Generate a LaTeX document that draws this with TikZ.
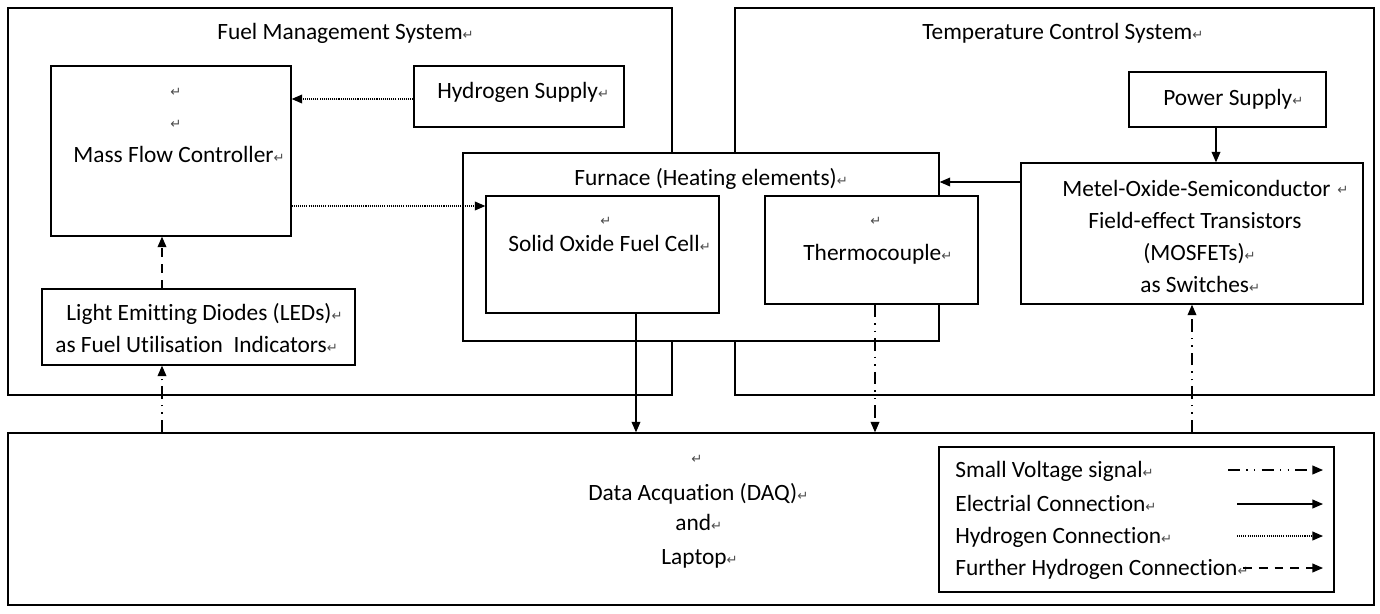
\documentclass[tikz,border=0pt]{standalone}
\usepackage{fontspec}
\setmainfont{Carlito}[Ligatures={NoCommon}]
\newfontfamily\symfont{DejaVu Sans}
\usetikzlibrary{arrows.meta,fit,calc}
\newcommand{\retmark}{{\symfont\fontsize{7.5}{8}\selectfont\color{black!70}↵}}

\begin{document}
\begin{tikzpicture}[x=0.02cm, y=-0.02cm,
  blk/.style={draw, line width=0.75pt, inner sep=0pt, fill=white},
  lbl/.style={anchor=base west, inner sep=0pt, font=\fontsize{13.3}{16}\selectfont},
  rmk/.style={anchor=base, inner sep=0pt, text=black!70, font=\symfont\fontsize{7.5}{8}\selectfont},
  elec/.style={line width=0.75pt, -{Triangle[length=6pt,width=5pt]}},
  hydro/.style={elec, dash pattern=on 0.6pt off 0.6pt},
  hydro2/.style={elec, dash pattern=on 5pt off 4pt},
  sig/.style={elec, dash pattern=on 7pt off 3.5pt on 0.8pt off 3.5pt on 0.8pt off 3.5pt}]
  \useasboundingbox (0,0) rectangle (1380,613);

  % outer blocks
  \node[blk, fit={(8,8) (672,395)}] (fms) {};
  \node[blk, fit={(735,8) (1374,395)}] (tcs) {};
  \node[blk, fit={(8,433) (1374,605)}] (daq) {};

  % fuel management
  \node[blk, fit={(51,66) (291,236)}] (mfc) {};
  \node[blk, fit={(414,66) (624,127)}] (hyd) {};
  \node[blk, fit={(42,289) (355,365)}] (led) {};

  % furnace and what sits in it
  \node[blk, fit={(463,153) (939,341)}] (furn) {};
  \node[blk, fit={(486,196) (719,313)}] (sofc) {};
  \node[blk, fit={(765,196) (978,304)}] (thermo) {};

  % temperature control
  \node[blk, fit={(1129,72) (1326,127)}] (psu) {};
  \node[blk, fit={(1021,163) (1363,304)}] (mosfet) {};

  % legend
  \node[blk, fit={(939,447) (1334,592)}] (legend) {};

  % texts
  \node[lbl] (fms-t) at (217,39) {Fuel Management System\retmark};
  \node[lbl] (hyd-t) at (437,98) {Hydrogen Supply\retmark};
  \node[rmk] (mfc-r1) at (176,96) {↵};
  \node[rmk] (mfc-r2) at (176,128) {↵};
  \node[lbl] (mfc-t) at (73,162) {Mass Flow Controller\retmark};
  \node[lbl] (led-t1) at (66,320) {Light Emitting Diodes (LEDs)\retmark};
  \node[lbl] (led-t2) at (55,352) {as Fuel Utilisation\ \ Indicators\retmark};
  \node[lbl] (furn-t) at (574,185) {Furnace (Heating elements)\retmark};
  \node[rmk] (sofc-r) at (606,225) {↵};
  \node[lbl] (sofc-t) at (508,251) {Solid Oxide Fuel Cell\retmark};
  \node[rmk] (thermo-r) at (876,225) {↵};
  \node[lbl] (thermo-t) at (803,260) {Thermocouple\retmark};
  \node[lbl] (tcs-t) at (922,39) {Temperature Control System\retmark};
  \node[lbl] (psu-t) at (1163,105) {Power Supply\retmark};
  \node[lbl] (mos-t1) at (1062,196) {Metel-Oxide-Semiconductor};
  \node[rmk] (mos-r) at (1343,194) {↵};
  \node[lbl] (mos-t2) at (1088,228) {Field-effect Transistors};
  \node[lbl] (mos-t3) at (1143,260) {(MOSFETs)\retmark};
  \node[lbl] (mos-t4) at (1140,292) {as Switches\retmark};
  \node[rmk] (daq-r) at (697,463) {↵};
  \node[lbl] (daq-t1) at (588,500) {Data Acquation (DAQ)\retmark};
  \node[lbl] (daq-t2) at (675,530) {and\retmark};
  \node[lbl] (daq-t3) at (661,564) {Laptop\retmark};

  % connectors
  \draw[hydro] (hyd.west |- 0,99) -- (mfc.east |- 0,99);
  \draw[hydro] (mfc.east |- 0,206) -- (sofc.west |- 0,206);
  \draw[hydro2] (led.north -| 162,0) -- (mfc.south -| 162,0);
  \draw[sig] (daq.north -| 162,0) -- (led.south -| 162,0);
  \draw[elec] (sofc.south -| 636,0) -- (daq.north -| 636,0);
  \draw[sig] (thermo.south -| 875,0) -- (daq.north -| 875,0);
  \draw[sig] (daq.north -| mosfet.south) -- (mosfet.south);
  \draw[elec] (psu.south -| 1216,0) -- (mosfet.north -| 1216,0);
  \draw[elec] (mosfet.west |- 0,182) -- (furn.east |- 0,182);

  % legend entries
  \node[lbl] (lg-sig) at (955,477) {Small Voltage signal\retmark};
  \node[lbl] (lg-elec) at (955,511) {Electrial Connection\retmark};
  \node[lbl] (lg-hyd) at (955,543) {Hydrogen Connection\retmark};
  \node[lbl] (lg-hyd2) at (955,575) {Further Hydrogen Connection\retmark};
  \coordinate (sig-a) at (1228,470);
  \coordinate (sig-b) at (1323,470);
  \coordinate (elec-a) at (1237,504);
  \coordinate (elec-b) at (1323,504);
  \coordinate (hyd-a) at (1237,536);
  \coordinate (hyd-b) at (1323,536);
  \coordinate (hyd2-a) at (1243,568);
  \coordinate (hyd2-b) at (1323,568);
  \draw[sig] (sig-a) -- (sig-b);
  \draw[elec] (elec-a) -- (elec-b);
  \draw[hydro] (hyd-a) -- (hyd-b);
  \draw[hydro2] (hyd2-a) -- (hyd2-b);
\end{tikzpicture}
\end{document}
